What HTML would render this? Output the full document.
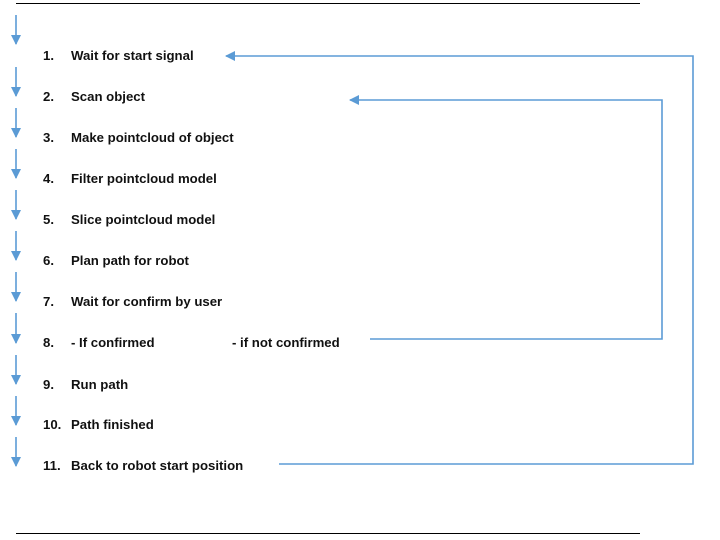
<!DOCTYPE html>
<html><head><style>
body{margin:0;background:#fff;width:720px;height:540px;position:relative;overflow:hidden;font-family:"Liberation Sans",sans-serif;font-weight:bold;font-size:13.2px;color:#111}
.t{position:absolute;white-space:nowrap;line-height:14px}
</style></head><body>
<svg width="720" height="540" style="position:absolute;left:0;top:0">
<defs><marker id="a" markerWidth="10" markerHeight="10" refX="9" refY="5" orient="auto" markerUnits="userSpaceOnUse"><path d="M0,0 L10,5 L0,10 z" fill="#5b9bd5"/></marker></defs>
<line x1="16" y1="3.5" x2="640" y2="3.5" stroke="#000" stroke-width="1"/>
<line x1="16" y1="533.5" x2="640" y2="533.5" stroke="#000" stroke-width="1"/>
<g stroke="#5b9bd5" stroke-width="1.6" fill="none">
<line x1="16" y1="15" x2="16" y2="44" marker-end="url(#a)"/>
<line x1="16" y1="67" x2="16" y2="96" marker-end="url(#a)"/>
<line x1="16" y1="108" x2="16" y2="137" marker-end="url(#a)"/>
<line x1="16" y1="149" x2="16" y2="178" marker-end="url(#a)"/>
<line x1="16" y1="190" x2="16" y2="219" marker-end="url(#a)"/>
<line x1="16" y1="231" x2="16" y2="260" marker-end="url(#a)"/>
<line x1="16" y1="272" x2="16" y2="301" marker-end="url(#a)"/>
<line x1="16" y1="313" x2="16" y2="343" marker-end="url(#a)"/>
<line x1="16" y1="355" x2="16" y2="384" marker-end="url(#a)"/>
<line x1="16" y1="396" x2="16" y2="425" marker-end="url(#a)"/>
<line x1="16" y1="437" x2="16" y2="466" marker-end="url(#a)"/>
<polyline points="279,464 693,464 693,56 226,56" marker-end="url(#a)"/>
<polyline points="370,339 662,339 662,100 350,100" marker-end="url(#a)"/>
</g>
</svg>
<div class="t" style="left:43px;top:49px">1.</div><div class="t" style="left:71px;top:49px">Wait for start signal</div>
<div class="t" style="left:43px;top:90px">2.</div><div class="t" style="left:71px;top:90px">Scan object</div>
<div class="t" style="left:43px;top:131px">3.</div><div class="t" style="left:71px;top:131px">Make pointcloud of object</div>
<div class="t" style="left:43px;top:172px">4.</div><div class="t" style="left:71px;top:172px">Filter pointcloud model</div>
<div class="t" style="left:43px;top:213px">5.</div><div class="t" style="left:71px;top:213px">Slice pointcloud model</div>
<div class="t" style="left:43px;top:254px">6.</div><div class="t" style="left:71px;top:254px">Plan path for robot</div>
<div class="t" style="left:43px;top:295px">7.</div><div class="t" style="left:71px;top:295px">Wait for confirm by user</div>
<div class="t" style="left:43px;top:336px">8.</div><div class="t" style="left:71px;top:336px">- If confirmed</div><div class="t" style="left:232px;top:336px">- if not confirmed</div>
<div class="t" style="left:43px;top:378px">9.</div><div class="t" style="left:71px;top:378px">Run path</div>
<div class="t" style="left:43px;top:418px">10.</div><div class="t" style="left:71px;top:418px">Path finished</div>
<div class="t" style="left:43px;top:459px">11.</div><div class="t" style="left:71px;top:459px">Back to robot start position</div>
</body></html>
